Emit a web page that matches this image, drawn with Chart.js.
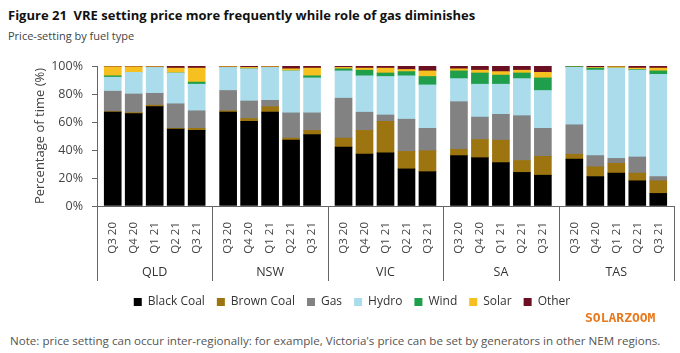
<!DOCTYPE html>
<html lang="en">
<head>
    <meta charset="UTF-8">
    <title>Price-setting by fuel type</title>
    <style>
        body {
            margin: 0;
            width: 680px;
            height: 353px;
            background: #fff;
            font-family: 'Open Sans', sans-serif;
            position: relative;
            overflow: hidden;
        }
        #title {
            position: absolute;
            left: 8px;
            top: 6px;
            font-size: 13px;
            font-weight: 700;
            color: #111;
            white-space: nowrap;
        }
        #subtitle {
            position: absolute;
            left: 8px;
            top: 28px;
            font-size: 11px;
            color: #444;
        }
        #chart-box {
            position: absolute;
            left: 22px;
            top: 0;
            width: 658px;
            height: 318px;
        }
        #watermark {
            position: absolute;
            left: 585px;
            top: 310px;
            font-family: 'DejaVu Sans Mono', monospace;
            font-size: 13px;
            font-weight: 700;
            color: #e8791c;
        }
        #note {
            position: absolute;
            left: 10px;
            top: 333px;
            font-size: 11.6px;
            color: #555;
            white-space: nowrap;
        }
    </style>
</head>
<body>
    <div id="title">Figure 21&nbsp;&nbsp;VRE setting price more frequently while role of gas diminishes</div>
    <div id="subtitle">Price-setting by fuel type</div>
    <div id="chart-box"><canvas id="myChart"></canvas></div>
    <div id="watermark">SOLARZOOM</div>
    <div id="note">Note: price setting can occur inter-regionally: for example, Victoria's price can be set by generators in other NEM regions.</div>

    <script src="https://cdn.jsdelivr.net/npm/chart.js"></script>
    <script>
        const regions = ['QLD', 'NSW', 'VIC', 'SA', 'TAS'];
        const quarters = ['Q3 20', 'Q4 20', 'Q1 21', 'Q2 21', 'Q3 21'];
        const yTicks = [0, 20, 40, 60, 80, 100];

        // per bar: QLD x5, NSW x5, VIC x5, SA x5, TAS x5 (% of time)
        const blackCoal = [67, 66, 71, 55, 54,   67, 60.5, 67, 47, 51,   42, 37, 38, 26.5, 24.5,   36, 34.5, 31, 24, 22,   33.5, 21, 23.5, 18, 9];
        const brownCoal = [0.5, 0.7, 1, 0.5, 1.5,   1, 2, 4, 1.5, 3,   6.5, 17, 22.5, 12.5, 15,   4.5, 13, 16, 8.5, 13.5,   3.5, 7, 7, 5.5, 9];
        const gas       = [14.5, 13.3, 8.5, 17.5, 12.5,   14.5, 12.5, 4.5, 18, 12.5,   28.5, 13, 4.5, 23, 16,   34, 16, 18.5, 32, 20,   21, 8, 3.5, 11.5, 3];
        const hydro     = [10, 15.5, 18.5, 22, 19,   16.5, 23, 23.5, 30, 25,   19.5, 26, 27.5, 31, 31,   16.5, 23.5, 21.5, 26.5, 27,   41, 61, 64.5, 62, 73];
        const wind      = [1, 0, 0, 0, 1.5,   0, 0, 0, 0, 1.5,   1.5, 4, 2.5, 3, 6,   5.5, 8, 6.5, 4, 9,   0.5, 1.5, 0, 0.5, 2.5];
        const solar     = [6.5, 4, 0.5, 3.5, 10,   0.5, 1, 0.5, 1.5, 5.5,   1, 1.5, 3.5, 1.5, 4,   1.5, 2, 2.5, 2, 4,   0, 0.5, 1, 1, 2];
        const other     = [0.5, 0.5, 0.5, 1.5, 1.5,   0.5, 1, 0.5, 2, 1.5,   1, 1.5, 1.5, 2.5, 3.5,   2, 3, 4, 3, 4.5,   0.5, 1, 0.5, 1.5, 1.5];

        const series = [
            {label: 'Black Coal', data: blackCoal, color: '#000000'},
            {label: 'Brown Coal', data: brownCoal, color: '#9c7410'},
            {label: 'Gas', data: gas, color: '#828282'},
            {label: 'Hydro', data: hydro, color: '#aadcec'},
            {label: 'Wind', data: wind, color: '#1f9e4b'},
            {label: 'Solar', data: solar, color: '#f5c020'},
            {label: 'Other', data: other, color: '#6b0f22'}
        ];

        // x layout: each region is 5.5 units wide, bars one unit apart
        const groupWidth = 5.5;
        const xPos = [];
        regions.forEach((r, g) => {
            quarters.forEach((q, i) => xPos.push(g * groupWidth + 0.75 + i));
        });

        const groupPlugin = {
            id: 'groups',
            afterDraw(chart) {
                const ctx = chart.ctx;
                const xs = chart.scales.x;
                const bottom = chart.chartArea.bottom;
                ctx.save();
                ctx.strokeStyle = '#666';
                ctx.lineWidth = 1;
                for (let g = 0; g <= regions.length; g++) {
                    const x = Math.round(xs.getPixelForValue(g * groupWidth)) + 0.5;
                    ctx.beginPath();
                    ctx.moveTo(x, bottom);
                    ctx.lineTo(x, bottom + 75);
                    ctx.stroke();
                }
                ctx.fillStyle = '#333';
                ctx.font = '12.5px "Open Sans"';
                ctx.textAlign = 'center';
                ctx.textBaseline = 'middle';
                regions.forEach((r, g) => {
                    ctx.fillText(r, xs.getPixelForValue(g * groupWidth + groupWidth / 2), bottom + 66);
                });
                ctx.restore();
            }
        };

        const ctx = document.getElementById('myChart').getContext('2d');
        new Chart(ctx, {
            type: 'bar',
            data: {
                datasets: series.map(s => ({
                    label: s.label,
                    data: s.data.map((v, i) => ({x: xPos[i], y: v})),
                    backgroundColor: s.color,
                    borderWidth: 0,
                    barThickness: 17
                }))
            },
            options: {
                responsive: true,
                maintainAspectRatio: false,
                animation: false,
                layout: {padding: {top: 66, left: 8, right: 6, bottom: 0}},
                scales: {
                    x: {
                        type: 'linear',
                        stacked: true,
                        offset: false,
                        min: 0,
                        max: regions.length * groupWidth,
                        grid: {display: false},
                        border: {display: true, color: '#666'},
                        afterBuildTicks: axis => { axis.ticks = xPos.map(v => ({value: v})); },
                        afterFit: axis => {
                            axis.height = 78;
                            axis.paddingLeft = 0;
                            axis.paddingRight = 0;
                        },
                        ticks: {
                            autoSkip: false,
                            maxRotation: 90,
                            minRotation: 90,
                            padding: 8,
                            color: '#444',
                            font: {family: 'Open Sans', size: 11.5},
                            callback: (value, index) => quarters[index % quarters.length]
                        }
                    },
                    y: {
                        stacked: true,
                        min: 0,
                        max: 100,
                        afterBuildTicks: axis => { axis.ticks = yTicks.map(v => ({value: v})); },
                        afterFit: axis => { axis.width = 67; },
                        grid: {drawOnChartArea: false, drawTicks: true, tickLength: 5, color: '#666'},
                        border: {display: true, color: '#666'},
                        ticks: {
                            padding: 9,
                            color: '#444',
                            font: {family: 'Open Sans', size: 12.5},
                            callback: v => v + '%'
                        },
                        title: {
                            display: true,
                            text: 'Percentage of time (%)',
                            color: '#444',
                            padding: {top: 2, bottom: 6},
                            font: {family: 'Open Sans', size: 13}
                        }
                    }
                },
                plugins: {
                    legend: {
                        position: 'bottom',
                        labels: {
                            boxWidth: 8,
                            boxHeight: 8,
                            padding: 12,
                            color: '#333',
                            font: {family: 'Open Sans', size: 12}
                        }
                    },
                    tooltip: {enabled: false}
                }
            },
            plugins: [groupPlugin]
        });
    </script>
</body>
</html>
